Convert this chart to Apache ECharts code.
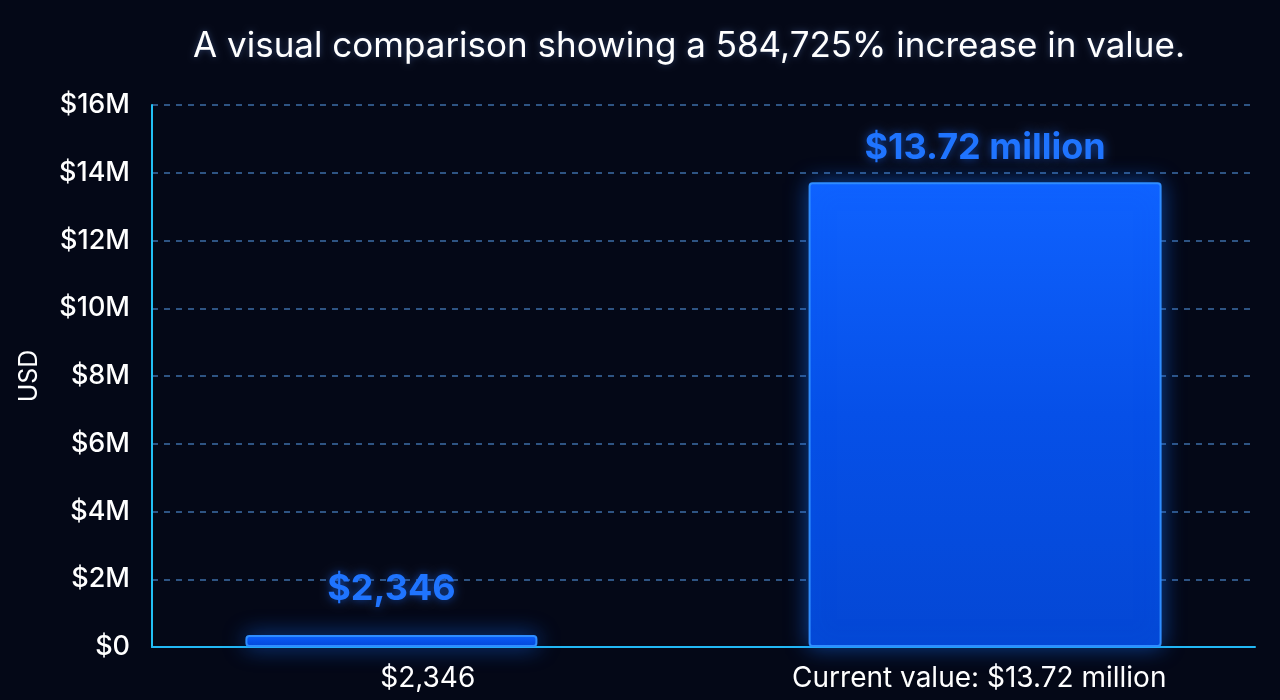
<!DOCTYPE html>
<html>
<head>
<meta charset="utf-8">
<style>
html,body{margin:0;padding:0;background:#040817;}
#chart{width:1280px;height:700px;}
</style>
<script src="https://cdn.jsdelivr.net/npm/echarts@6/dist/echarts.min.js"></script>
</head>
<body>
<div id="chart"></div>
<script>
const titleText = 'A visual comparison showing a 584,725% increase in value.';
const categories = ['$2,346', 'Current value: $13.72 million'];
const pastValues = [2346, '-'];
const currentValues = ['-', 13720000];
const barLabels = ['$2,346', '$13.72 million'];
const yAxisName = 'USD';

const chart = echarts.init(document.getElementById('chart'), null, {renderer: 'canvas'});
const font = 'Inter, "Noto Sans", Roboto, sans-serif';
const barFill = new echarts.graphic.LinearGradient(0, 0, 0, 1, [
  {offset: 0, color: '#0f62ff'},
  {offset: 0.5, color: '#0650e8'},
  {offset: 1, color: '#0447d4'}
]);
const itemStyle = {
  color: barFill,
  borderColor: '#2f8dff',
  borderWidth: 2,
  borderRadius: 3,
  shadowColor: 'rgba(20,110,255,0.55)',
  shadowBlur: 22
};
const labelStyle = {
  show: true,
  position: 'top',
  color: '#1f74ff',
  fontFamily: font,
  fontWeight: 'bold',
  fontSize: 36,
  textShadowColor: 'rgba(30,110,255,0.6)',
  textShadowBlur: 10
};
chart.setOption({
  backgroundColor: '#040817',
  title: {
    text: titleText,
    left: 684,
    textAlign: 'center',
    top: 24,
    textStyle: {color: '#ffffff', fontFamily: font, fontWeight: 'normal', fontSize: 35,
      textShadowColor: 'rgba(120,170,255,0.35)', textShadowBlur: 6}
  },
  grid: {left: 152, right: 25, top: 105, bottom: 53},
  xAxis: {
    type: 'category',
    data: categories,
    axisLine: {show: true, lineStyle: {color: '#22b8f5', width: 2}},
    axisTick: {show: false},
    axisLabel: {color: '#ffffff', fontFamily: font, fontSize: 28, margin: 18}
  },
  yAxis: {
    type: 'value',
    min: 0, max: 16000000, interval: 2000000,
    name: yAxisName,
    nameLocation: 'middle',
    nameGap: 110,
    nameRotate: 90,
    nameTextStyle: {color: '#ffffff', fontFamily: font, fontSize: 25},
    axisLine: {show: true, lineStyle: {color: '#22c0f5', width: 2}},
    axisTick: {show: false},
    axisLabel: {
      color: '#ffffff', fontFamily: font, fontSize: 27, fontWeight: 500, margin: 22,
      formatter: v => v === 0 ? '$0' : '$' + (v / 1e6) + 'M'
    },
    splitLine: {show: true, lineStyle: {color: '#3d6ea8', type: [6, 6], width: 1.5}}
  },
  series: [
    {
      type: 'bar',
      data: pastValues,
      barWidth: 292,
      barGap: '-96%',
      barMinHeight: 12,
      itemStyle: itemStyle,
      label: Object.assign({}, labelStyle, {distance: 28, formatter: p => barLabels[p.dataIndex]})
    },
    {
      type: 'bar',
      data: currentValues,
      barWidth: 353,
      itemStyle: itemStyle,
      label: Object.assign({}, labelStyle, {distance: 16, formatter: p => barLabels[p.dataIndex]})
    }
  ]
});
</script>
</body>
</html>
